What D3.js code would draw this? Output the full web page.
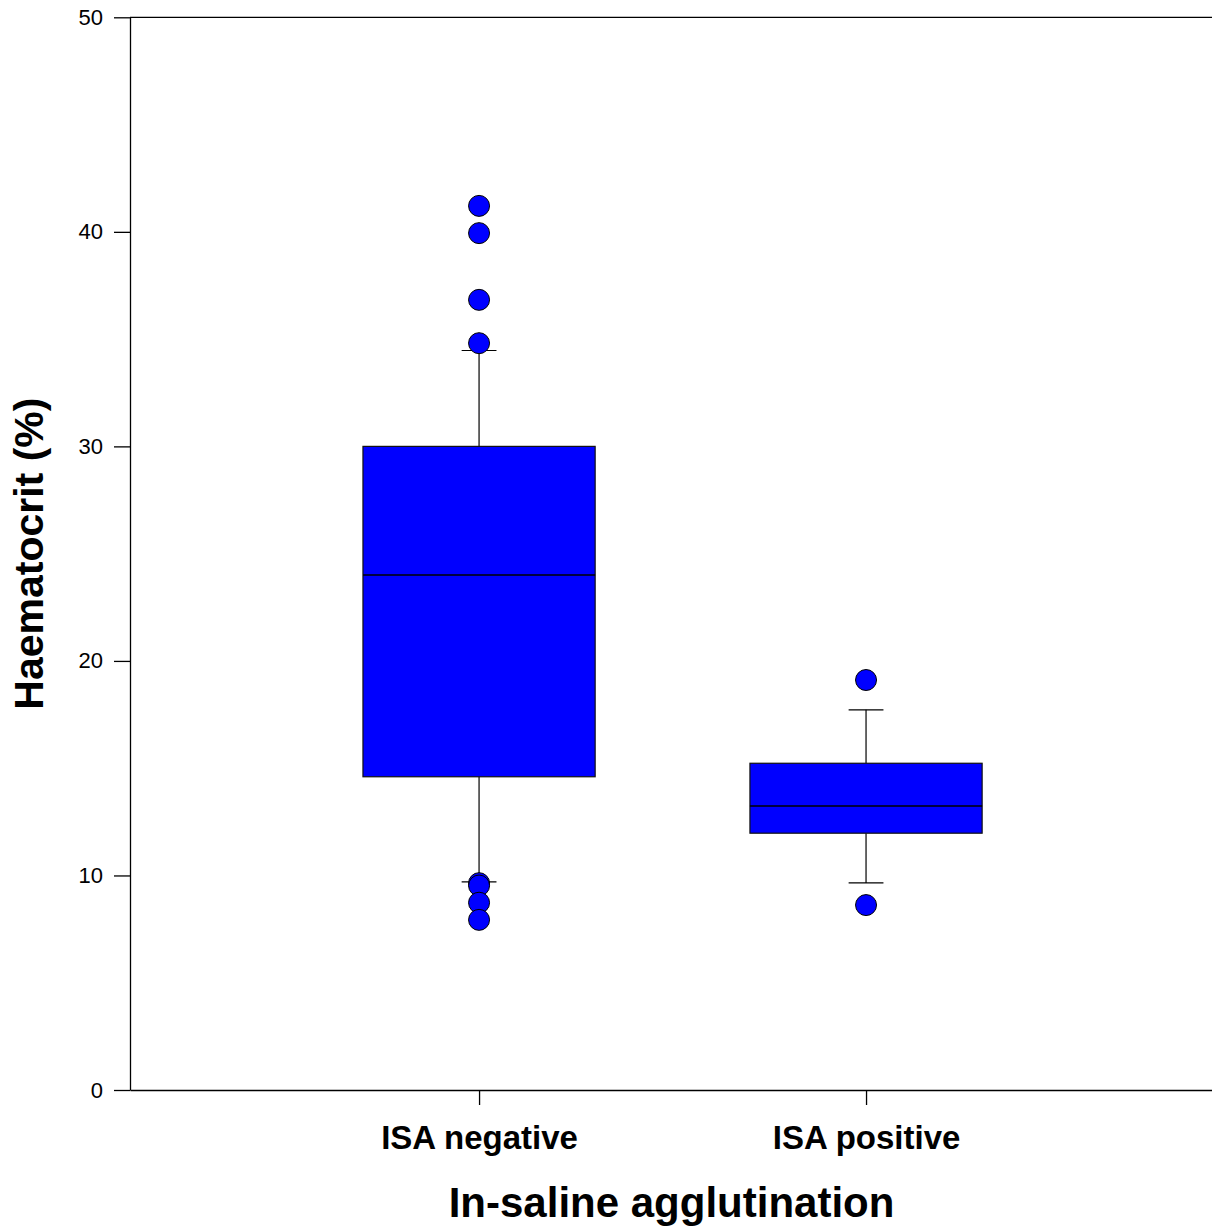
<!DOCTYPE html>
<html>
<head>
<meta charset="utf-8">
<script src="https://cdn.jsdelivr.net/npm/d3@7"></script>
<style>
  body { margin: 0; background: #fff; }
  svg { display: block; }
</style>
</head>
<body>
<div id="chart"></div>
<script>
// categories and box statistics
const categories = ["ISA negative", "ISA positive"];
const lowerWhisker = [9.7, 9.65];
const q1 = [14.6, 11.97];
const median = [24.0, 13.24];
const q3 = [30.0, 15.23];
const upperWhisker = [34.47, 17.72];
const outliers = [
  [41.21, 39.94, 36.83, 34.81, 9.64, 9.53, 8.73, 7.93],
  [19.11, 8.62]
];
const yTicks = [0, 10, 20, 30, 40, 50];

const width = 1212, height = 1226;
const plotLeft = 130, plotRight = 1212, plotTop = 17.3, plotBottom = 1090;

const svg = d3.select("#chart").append("svg")
  .attr("width", width)
  .attr("height", height);

// x: group i sits at i+1
const x = d3.scaleLinear().domain([0.098, 2.894]).range([plotLeft, plotRight]);
const y = d3.scaleLinear().domain([0, 50]).range([plotBottom, plotTop]);

const boxW = 0.6, capW = 0.09;

// top frame line
svg.append("line")
  .attr("x1", plotLeft).attr("x2", plotRight)
  .attr("y1", y(50)).attr("y2", y(50))
  .attr("stroke", "#000").attr("stroke-width", 1.3);

// y axis
const yAxis = svg.append("g")
  .attr("transform", `translate(${plotLeft},0)`)
  .call(d3.axisLeft(y).tickValues(yTicks).tickSize(16).tickPadding(11).tickSizeOuter(0));
yAxis.select(".domain").attr("stroke", "#000").attr("stroke-width", 1.3);
yAxis.selectAll(".tick line").attr("stroke", "#000").attr("stroke-width", 1.3);
yAxis.selectAll("text")
  .attr("font-family", "Liberation Sans, Arial, sans-serif")
  .attr("font-size", 22).attr("fill", "#000");

// x axis
const xAxis = svg.append("g")
  .attr("transform", `translate(0,${plotBottom})`)
  .call(d3.axisBottom(x).tickValues([1, 2]).tickFormat((d, i) => categories[i])
    .tickSize(15).tickPadding(21).tickSizeOuter(0));
xAxis.select(".domain").attr("stroke", "#000").attr("stroke-width", 1.3);
xAxis.selectAll(".tick line").attr("stroke", "#000").attr("stroke-width", 1.3);
xAxis.selectAll("text")
  .attr("font-family", "Liberation Sans, Arial, sans-serif")
  .attr("font-weight", "bold")
  .attr("font-size", 33).attr("fill", "#000");

// boxes
const groups = svg.append("g").selectAll("g")
  .data(categories.map((c, i) => i))
  .join("g");

groups.append("line")
  .attr("x1", i => x(i + 1)).attr("x2", i => x(i + 1))
  .attr("y1", i => y(upperWhisker[i])).attr("y2", i => y(q3[i]))
  .attr("stroke", "#000").attr("stroke-width", 1.2);
groups.append("line")
  .attr("x1", i => x(i + 1)).attr("x2", i => x(i + 1))
  .attr("y1", i => y(q1[i])).attr("y2", i => y(lowerWhisker[i]))
  .attr("stroke", "#000").attr("stroke-width", 1.2);
groups.append("line")
  .attr("x1", i => x(i + 1 - capW / 2)).attr("x2", i => x(i + 1 + capW / 2))
  .attr("y1", i => y(upperWhisker[i])).attr("y2", i => y(upperWhisker[i]))
  .attr("stroke", "#000").attr("stroke-width", 1.2);
groups.append("line")
  .attr("x1", i => x(i + 1 - capW / 2)).attr("x2", i => x(i + 1 + capW / 2))
  .attr("y1", i => y(lowerWhisker[i])).attr("y2", i => y(lowerWhisker[i]))
  .attr("stroke", "#000").attr("stroke-width", 1.2);

groups.append("rect")
  .attr("x", i => x(i + 1 - boxW / 2))
  .attr("width", i => x(i + 1 + boxW / 2) - x(i + 1 - boxW / 2))
  .attr("y", i => y(q3[i]))
  .attr("height", i => y(q1[i]) - y(q3[i]))
  .attr("fill", "#0000ff").attr("stroke", "#111").attr("stroke-width", 1.2);

groups.append("line")
  .attr("x1", i => x(i + 1 - boxW / 2)).attr("x2", i => x(i + 1 + boxW / 2))
  .attr("y1", i => y(median[i])).attr("y2", i => y(median[i]))
  .attr("stroke", "#000").attr("stroke-width", 1.5);

// outliers
groups.selectAll("circle")
  .data(i => outliers[i].map(v => ({ i, v })))
  .join("circle")
  .attr("cx", d => x(d.i + 1))
  .attr("cy", d => y(d.v))
  .attr("r", 10.5)
  .attr("fill", "#0000ff").attr("stroke", "#000").attr("stroke-width", 1);

// axis titles
svg.append("text")
  .attr("x", (x(1) + x(2)) / 2 - 1).attr("y", 1217)
  .attr("text-anchor", "middle")
  .attr("font-family", "Liberation Sans, Arial, sans-serif")
  .attr("font-weight", "bold").attr("font-size", 42)
  .text("In-saline agglutination");

svg.append("text")
  .attr("transform", `translate(43,${y(25)}) rotate(-90)`)
  .attr("text-anchor", "middle")
  .attr("font-family", "Liberation Sans, Arial, sans-serif")
  .attr("font-weight", "bold").attr("font-size", 41)
  .text("Haematocrit (%)");
</script>
</body>
</html>
